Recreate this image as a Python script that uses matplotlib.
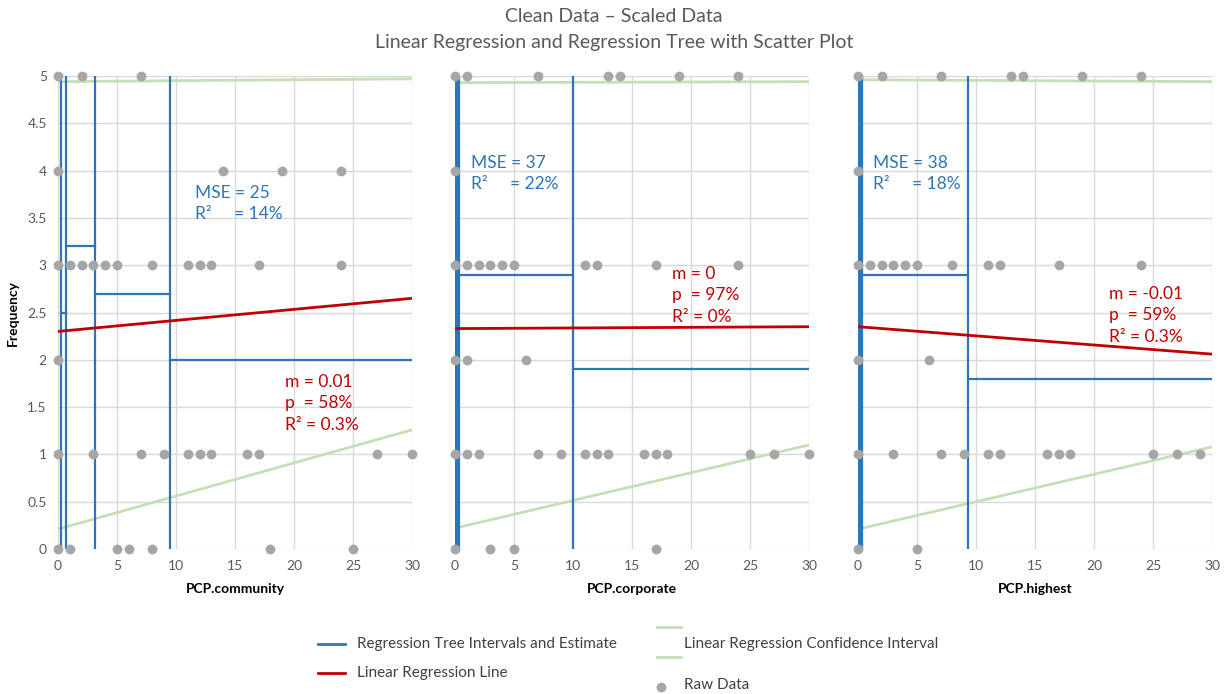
import numpy as np
import matplotlib.pyplot as plt
from matplotlib.lines import Line2D

plt.rcParams['font.family'] = ['Lato', 'DejaVu Sans']

# --- data ---
names = ["PCP.community", "PCP.corporate", "PCP.highest"]

raw_x = [
    [0, 2, 7, 0, 14, 19, 24, 0, 1, 2, 3, 4, 5, 8, 11, 12, 13, 17, 24, 0,
     0, 3, 7, 9, 11, 12, 13, 16, 17, 27, 30, 0, 1, 5, 6, 8, 18, 25],
    [0, 1, 7, 13, 14, 19, 24, 0, 0, 1, 2, 3, 4, 5, 11, 12, 17, 24, 0, 1, 6,
     0, 1, 2, 7, 9, 11, 12, 13, 16, 17, 18, 25, 27, 30, 0, 3, 5, 17],
    [0, 2, 7, 13, 14, 19, 24, 0, 0, 1, 2, 3, 4, 5, 8, 11, 12, 17, 24, 0, 6,
     0, 3, 7, 9, 11, 12, 16, 17, 18, 25, 27, 29, 0, 5],
]
raw_y = [
    [5, 5, 5, 4, 4, 4, 4, 3, 3, 3, 3, 3, 3, 3, 3, 3, 3, 3, 3, 2,
     1, 1, 1, 1, 1, 1, 1, 1, 1, 1, 1, 0, 0, 0, 0, 0, 0, 0],
    [5, 5, 5, 5, 5, 5, 5, 4, 3, 3, 3, 3, 3, 3, 3, 3, 3, 3, 2, 2, 2,
     1, 1, 1, 1, 1, 1, 1, 1, 1, 1, 1, 1, 1, 1, 0, 0, 0, 0],
    [5, 5, 5, 5, 5, 5, 5, 4, 3, 3, 3, 3, 3, 3, 3, 3, 3, 3, 3, 2, 2,
     1, 1, 1, 1, 1, 1, 1, 1, 1, 1, 1, 1, 0, 0],
]

# regression tree: split points and leaf estimates
tree_splits = [[0.23, 0.68, 3.1, 9.5], [0.2, 10], [0.2, 9.3]]
tree_left = [[0.23, 0.68, 3.1, 9.5], [0.35, 10], [0.3, 9.3]]
tree_right = [[0.68, 3.1, 9.5, 30], [10, 30], [9.3, 30]]
tree_est = [[2.5, 3.2, 2.7, 2.0], [2.9, 1.9], [2.9, 1.8]]
tree_width = [1.6, 4.5, 4.5]

# linear regression line (value at x=0 and x=30)
lin_start = [2.30, 2.33, 2.35]
lin_end = [2.65, 2.35, 2.06]
# confidence interval
ci_up_start = [4.94, 4.93, 4.96]
ci_up_end = [4.97, 4.94, 4.94]
ci_lo_start = [0.21, 0.22, 0.21]
ci_lo_end = [1.26, 1.10, 1.08]

mse_text = ["MSE = 25", "MSE = 37", "MSE = 38"]
tree_r2_text = ["R²     = 14%", "R²     = 22%", "R²     = 18%"]
m_text = ["m = 0.01", "m = 0", "m = -0.01"]
p_text = ["p  = 58%", "p  = 97%", "p  = 59%"]
lin_r2_text = ["R² = 0.3%", "R² = 0%", "R² = 0.3%"]
mse_pos = [(11.6, 3.76), (1.4, 4.08), (1.3, 4.08)]
lin_pos = [(19.2, 1.77), (18.4, 2.91), (21.3, 2.70)]

blue = "#2e75b6"
red = "#c00000"
green = "#c5e0b4"
grey = "#a6a6a6"
txt = "#595959"

fig = plt.figure(figsize=(12.28, 6.94), dpi=100)
lefts = [0.0472, 0.3705, 0.6987]

for i in range(3):
    ax = fig.add_axes([lefts[i], 0.2089, 0.2883, 0.6816])
    ax.set_xlim(0, 30)
    ax.set_ylim(0, 5)
    ax.set_xticks(np.arange(0, 31, 5))
    ax.set_yticks(np.arange(0, 5.01, 0.5))
    ax.set_yticklabels([("%g" % v) for v in np.arange(0, 5.01, 0.5)])
    ax.grid(True, color="#d9d9d9", lw=1)
    ax.set_axisbelow(True)
    for s in ax.spines.values():
        s.set_visible(False)
    ax.tick_params(length=0, colors=txt, labelsize=10, pad=8)
    if i > 0:
        ax.tick_params(labelleft=False)
    else:
        ax.set_ylabel("Frequency", fontsize=10, fontweight="bold", labelpad=6)
    ax.set_xlabel(names[i], fontsize=10, fontweight="bold", labelpad=8)

    # confidence interval
    ax.plot([0, 30], [ci_up_start[i], ci_up_end[i]], color=green, lw=2, zorder=2)
    ax.plot([0, 30], [ci_lo_start[i], ci_lo_end[i]], color=green, lw=2, zorder=2)

    # tree
    for k, xs in enumerate(tree_splits[i]):
        w = tree_width[i] if k == 0 else 1.6
        ax.plot([xs, xs], [0, 5], color=blue, lw=w, zorder=3, solid_capstyle="butt")
    for a, b, e in zip(tree_left[i], tree_right[i], tree_est[i]):
        ax.plot([a, b], [e, e], color=blue, lw=1.6, zorder=3)

    # linear regression
    ax.plot([0, 30], [lin_start[i], lin_end[i]], color=red, lw=2, zorder=4)

    ax.scatter(raw_x[i], raw_y[i], s=50, color=grey, zorder=5, clip_on=False,
               linewidths=0)

    mx, my = mse_pos[i]
    ax.text(mx, my, mse_text[i], color=blue, fontsize=12.5, va="center")
    ax.text(mx, my - 0.22, tree_r2_text[i], color=blue, fontsize=12.5, va="center")
    lx, ly = lin_pos[i]
    ax.text(lx, ly, m_text[i], color=red, fontsize=12.5, va="center")
    ax.text(lx, ly - 0.23, p_text[i], color=red, fontsize=12.5, va="center")
    ax.text(lx, ly - 0.46, lin_r2_text[i], color=red, fontsize=12.5, va="center")

fig.text(0.5, 0.976, "Clean Data – Scaled Data", ha="center", va="center",
         fontsize=14, color=txt)
fig.text(0.5, 0.939, "Linear Regression and Regression Tree with Scatter Plot",
         ha="center", va="center", fontsize=14, color=txt)

# legend
def fx(px):
    return px / 1228.0

def fy(py):
    return 1 - py / 694.0

fig.add_artist(Line2D([fx(318), fx(345)], [fy(644), fy(644)], color=blue, lw=2))
fig.text(fx(357), fy(644), "Regression Tree Intervals and Estimate", fontsize=11,
         va="center", color="#404040")
fig.add_artist(Line2D([fx(318), fx(345)], [fy(673), fy(673)], color=red, lw=2))
fig.text(fx(357), fy(673), "Linear Regression Line", fontsize=11,
         va="center", color="#404040")
fig.add_artist(Line2D([fx(657), fx(681)], [fy(627), fy(627)], color=green, lw=2))
fig.add_artist(Line2D([fx(657), fx(681)], [fy(657), fy(657)], color=green, lw=2))
fig.text(fx(684), fy(644), "Linear Regression Confidence Interval", fontsize=11,
         va="center", color="#404040")
fig.add_artist(Line2D([fx(661)], [fy(687)], marker="o", color=grey, ms=6, lw=0))
fig.text(fx(684), fy(685), "Raw Data", fontsize=11, va="center", color="#404040")

plt.savefig("out.png", dpi=100)
